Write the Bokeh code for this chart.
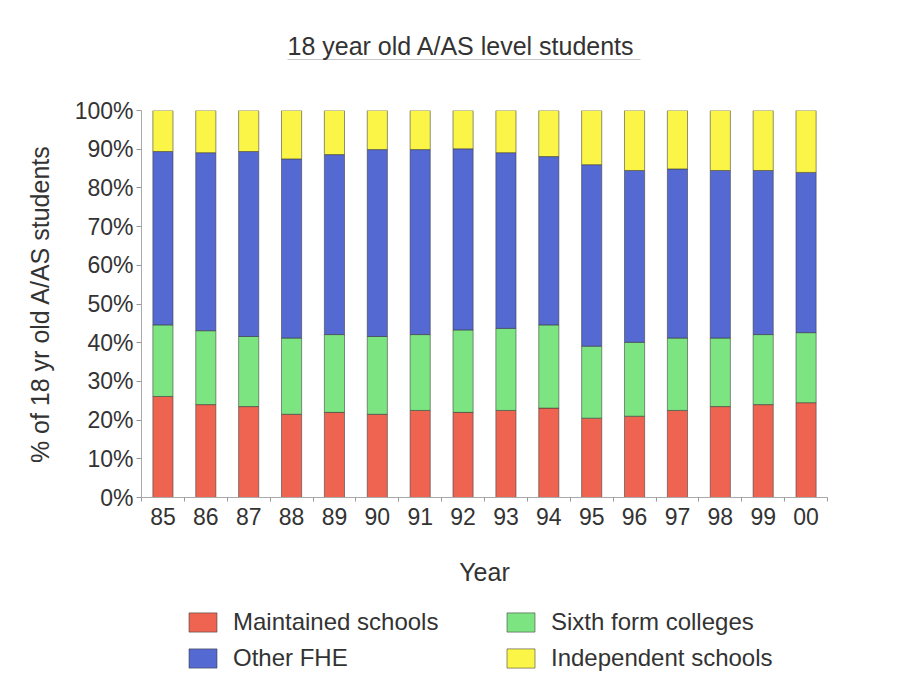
from bokeh.plotting import figure
from bokeh.layouts import column
from bokeh.models import ColumnDataSource, FixedTicker, PrintfTickFormatter, Legend, LegendItem, Range1d, Label
from bokeh.embed import file_html
from bokeh.resources import INLINE

years = ["85", "86", "87", "88", "89", "90", "91", "92", "93", "94", "95", "96", "97", "98", "99", "00"]
maintained = [26.1, 24.0, 23.5, 21.5, 22.0, 21.5, 22.5, 22.0, 22.5, 23.1, 20.5, 21.0, 22.5, 23.5, 24.0, 24.5]
sixth_form = [18.5, 19.1, 18.1, 19.7, 20.1, 20.1, 19.6, 21.3, 21.2, 21.5, 18.6, 19.1, 18.7, 17.7, 18.1, 18.1]
other_fhe = [44.8, 46.0, 47.8, 46.3, 46.5, 48.3, 47.8, 46.8, 45.4, 43.5, 46.9, 44.4, 43.7, 43.3, 42.4, 41.4]
independent = [10.6, 10.9, 10.6, 12.5, 11.4, 10.1, 10.1, 9.9, 10.9, 11.9, 14.0, 15.5, 15.1, 15.5, 15.5, 16.0]
y_ticks = [0, 10, 20, 30, 40, 50, 60, 70, 80, 90, 100]
title_text = "18 year old A/AS level students"

series = ["maintained", "sixth_form", "other_fhe", "independent"]
names = ["Maintained schools", "Sixth form colleges", "Other FHE", "Independent schools"]
colors = ["#EE6450", "#7DE482", "#5569D2", "#FAF546"]

xs = list(range(len(years)))
source = ColumnDataSource(dict(x=xs, maintained=maintained, sixth_form=sixth_form,
                               other_fhe=other_fhe, independent=independent))

FONT = "Liberation Sans"
TXT = "#333333"
BAR_LINE = dict(line_color="#3a3a3a", line_width=0.7, line_alpha=0.8)
W = 905


def strip(height):
    f = figure(width=W, height=height, output_backend="svg", toolbar_location=None,
               x_range=Range1d(0, 686), y_range=Range1d(0, height),
               x_axis_type=None, y_axis_type=None,
               min_border_left=0, min_border_right=0, min_border_top=0, min_border_bottom=0)
    f.outline_line_color = None
    f.background_fill_color = "white"
    f.border_fill_color = "white"
    f.xgrid.grid_line_color = None
    f.ygrid.grid_line_color = None
    return f


# ---- title strip ----
TH = 70
top = strip(TH)
top.add_layout(Label(x=146, y=TH - 45, text=title_text, text_font=FONT, text_font_size="25px",
                     text_color=TXT, text_baseline="middle", text_align="left"))
top.segment(x0=[146], y0=[TH - 59], x1=[499], y1=[TH - 59], line_color="#c8c8c8", line_width=1)

# ---- main chart ----
p = figure(width=W, height=530, output_backend="svg", toolbar_location=None,
           x_range=Range1d(-0.5, len(years) - 0.5), y_range=Range1d(0, 100),
           min_border_left=141, min_border_right=78, min_border_top=40, min_border_bottom=103)
p.outline_line_color = None
p.background_fill_color = "white"
p.border_fill_color = "white"
p.xgrid.grid_line_color = None
p.ygrid.grid_line_color = None

renderers = p.vbar_stack(series, x="x", width=0.47, source=source, color=colors, **BAR_LINE)

xa = p.xaxis[0]
xa.ticker = FixedTicker(ticks=xs, minor_ticks=[i - 0.5 for i in range(len(years) + 1)])
xa.major_label_overrides = {i: y for i, y in enumerate(years)}
xa.major_tick_out = 0
xa.major_tick_in = 0
xa.minor_tick_out = 4
xa.minor_tick_in = 0
xa.minor_tick_line_color = "#999999"
xa.axis_line_color = "#aaaaaa"
xa.major_label_text_font = FONT
xa.major_label_text_font_size = "23px"
xa.major_label_text_color = TXT
xa.major_label_standoff = 6
xa.axis_label = "Year"
xa.axis_label_text_font = FONT
xa.axis_label_text_font_size = "25px"
xa.axis_label_text_font_style = "normal"
xa.axis_label_text_color = TXT
xa.axis_label_standoff = 30

ya = p.yaxis[0]
ya.ticker = FixedTicker(ticks=y_ticks, minor_ticks=[])
ya.formatter = PrintfTickFormatter(format="%d%%")
ya.major_tick_out = 5
ya.major_tick_in = 0
ya.major_tick_line_color = "#999999"
ya.minor_tick_line_color = None
ya.axis_line_color = "#aaaaaa"
ya.major_label_text_font = FONT
ya.major_label_text_font_size = "23px"
ya.major_label_text_color = TXT
ya.major_label_standoff = 3
ya.axis_label = "% of 18 yr old A/AS students"
ya.axis_label_text_font = FONT
ya.axis_label_text_font_size = "25px"
ya.axis_label_text_font_style = "normal"
ya.axis_label_text_color = TXT
ya.axis_label_standoff = 18

# ---- legend strip ----
LH = 84
lg = strip(LH)
lg.x_range = Range1d(-0.5, len(years) - 0.5)
lg.y_range = Range1d(300, 300 + LH)  # legend glyph renderers stay below the visible strip
proxies = lg.vbar_stack(series, x="x", width=0.47, source=source, color=colors, **BAR_LINE)

order = [0, 2, 1, 3]
items = [LegendItem(label=names[i], renderers=[proxies[i]]) for i in order]
legend = Legend(items=items, ncols=2, location=(44, 12),
                glyph_width=35, glyph_height=24, label_height=24, label_width=262,
                label_standoff=13, spacing=8, padding=0, margin=0,
                border_line_color=None, background_fill_alpha=0,
                label_text_font=FONT, label_text_font_size="24px", label_text_color=TXT)
lg.add_layout(legend, "center")

layout = column(top, p, lg, spacing=0)
open("out.html", "w").write(file_html(layout, INLINE))
